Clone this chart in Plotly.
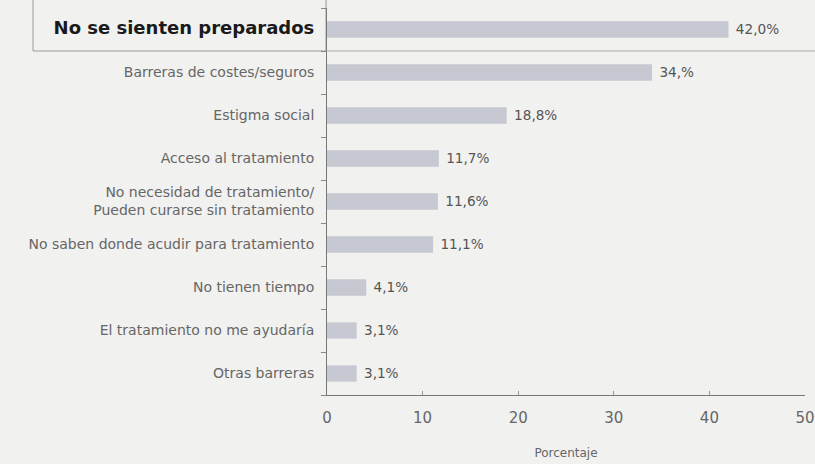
import plotly.graph_objects as go

categories = [
    "No se sienten preparados",
    "Barreras de costes/seguros",
    "Estigma social",
    "Acceso al tratamiento",
    "No necesidad de tratamiento/<br>Pueden curarse sin tratamiento",
    "No saben donde acudir para tratamiento",
    "No tienen tiempo",
    "El tratamiento no me ayudaría",
    "Otras barreras",
]
values = [42.0, 34.0, 18.8, 11.7, 11.6, 11.1, 4.1, 3.1, 3.1]
value_labels = ["42,0%", "34,%", "18,8%", "11,7%", "11,6%", "11,1%", "4,1%", "3,1%", "3,1%"]
x_ticks = [0, 10, 20, 30, 40, 50]

FONT = "DejaVu Sans, Arial"

ticktext = []
for i, c in enumerate(categories):
    if i == 0:
        ticktext.append("<b><span style='font-size:18px;color:#1a1a1a'>" + c + "</span></b>  ")
    else:
        ticktext.append(c.replace("<br>", "  <br>") + "  ")

fig = go.Figure(go.Bar(
    y=categories, x=values, orientation="h",
    marker=dict(color="#c6c9d1", line=dict(width=0)),
    width=0.38,
    text=[" " + t for t in value_labels], textposition="outside",
    textfont=dict(size=15, color="#555555", family=FONT),
    cliponaxis=False,
))

fig.update_layout(
    width=815, height=464,
    margin=dict(l=327, r=10, t=8, b=69),
    paper_bgcolor="#f1f1f0", plot_bgcolor="#f1f1f0",
    showlegend=False,
    font=dict(family=FONT, size=12, color="#666666"),
    xaxis=dict(
        range=[0, 50], tickvals=x_ticks, ticktext=[str(v) for v in x_ticks],
        automargin=False, ticklabeloverflow="allow",
        showgrid=False, zeroline=False, showline=True, linecolor="#777777", linewidth=1,
        ticks="inside", ticklen=4, tickcolor="#999999", ticklabelstandoff=9,
        tickfont=dict(size=15, color="#666666", family=FONT),
        title=dict(text="Porcentaje", font=dict(size=12, color="#666666", family=FONT), standoff=22),
    ),
    yaxis=dict(
        categoryorder="array", categoryarray=categories,
        tickmode="array", tickvals=categories, ticktext=ticktext,
        autorange="reversed", automargin=False,
        showgrid=False, zeroline=False, showline=True, linecolor="#777777", linewidth=1,
        ticks="outside", ticklen=5, tickcolor="#888888", tickson="boundaries",
        tickfont=dict(size=14, color="#666666", family=FONT),
    ),
)

# highlight box around the first category
fig.add_shape(type="rect", xref="paper", yref="paper", x0=-0.615, x1=-0.002,
              y0=1 - 1 / 9, y1=1.06, line=dict(color="#999999", width=1), layer="below")
fig.add_shape(type="line", xref="paper", yref="paper", x0=-0.002, x1=1.03,
              y0=1 - 1 / 9, y1=1 - 1 / 9, line=dict(color="#aaaaaa", width=1))

fig.write_html("out.html", config={"displayModeBar": False},
               post_script="document.body.style.margin='0';document.body.style.background='#f1f1f0';")
